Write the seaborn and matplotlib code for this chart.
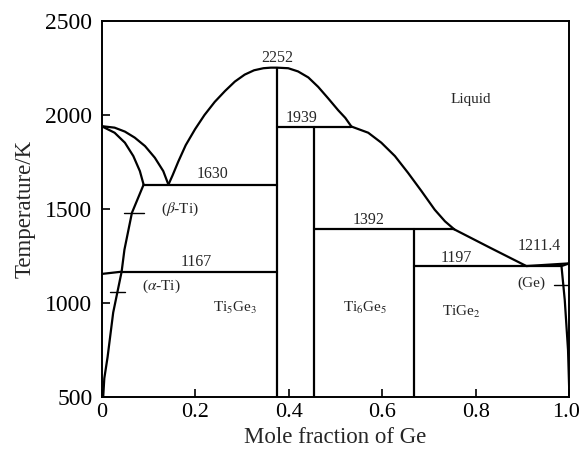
import matplotlib
matplotlib.use("Agg")
import matplotlib.pyplot as plt
import matplotlib.transforms as mtransforms
import seaborn as sns

sns.set_theme(style="white")
plt.rcParams['font.family'] = ['Liberation Serif', 'DejaVu Serif']

# ---- phase boundary data (mole fraction Ge, temperature K) ----
liq_ti_x = [0.0, 0.028, 0.05, 0.071, 0.093, 0.114, 0.132, 0.143]
liq_ti_T = [1941, 1933, 1912, 1880, 1835, 1773, 1702, 1630]
sol_ti_x = [0.0, 0.028, 0.05, 0.068, 0.082, 0.09]
sol_ti_T = [1941, 1906, 1853, 1782, 1702, 1630]
solvus_ti_x = [0.09, 0.065, 0.049, 0.043, 0.025, 0.013, 0.006, 0.0036]
solvus_ti_T = [1630, 1480, 1284, 1167, 950, 713, 600, 500]
ab_x = [0.0, 0.043]
ab_T = [1155, 1167]
dome_x = [0.143, 0.152, 0.164, 0.18, 0.2, 0.22, 0.242, 0.264, 0.285, 0.306, 0.326,
          0.346, 0.362, 0.375, 0.399, 0.42, 0.442, 0.463, 0.484, 0.506, 0.521, 0.534]
dome_T = [1630, 1680, 1752, 1840, 1925, 2000, 2070, 2128, 2178, 2215, 2238,
          2249, 2252, 2252, 2249, 2232, 2200, 2150, 2090, 2025, 1985, 1939]
liq_ge_x = [0.534, 0.57, 0.598, 0.627, 0.655, 0.684, 0.712, 0.734, 0.754]
liq_ge_T = [1939, 1906, 1853, 1782, 1693, 1595, 1497, 1435, 1392]
liq_eut_x = [0.754, 0.83, 0.908, 1.0]
liq_eut_T = [1392, 1295, 1197, 1211.4]
sol_ge_x = [1.0, 0.983, 0.99, 0.997, 1.0]
sol_ge_T = [1211.4, 1197, 1017, 751, 500]

# invariant horizontal lines
inv_x0 = [0.09, 0.043, 0.375, 0.4545, 0.667]
inv_x1 = [0.375, 0.375, 0.534, 0.754, 0.983]
inv_T = [1630, 1167, 1939, 1392, 1197]
# compound lines
comp_x = [0.375, 0.4545, 0.667]
comp_T = [2252, 1939, 1392]
# short marker dashes
dash_x0 = [0.049, 0.018, 0.966]
dash_x1 = [0.09, 0.05, 0.996]
dash_T = [1481, 1057, 1097]

# labels
num_labels = ["2252", "1939", "1630", "1392", "1197", "1211.4", "1167"]
num_x = [0.375, 0.427, 0.237, 0.57, 0.759, 0.935, 0.203]
num_T = [2305, 1985, 1688, 1440, 1242, 1302, 1218]
phase_labels = ["Liquid", r"($\beta$-Ti)", r"($\alpha$-Ti)", "Ti$_5$Ge$_3$",
                "Ti$_6$Ge$_5$", "TiGe$_2$", "(Ge)"]
phase_x = [0.79, 0.167, 0.128, 0.285, 0.564, 0.769, 0.919]
phase_T = [2084, 1497, 1088, 973, 975, 955, 1106]

x_ticks = [0, 0.2, 0.4, 0.6, 0.8, 1.0]
x_ticklabels = ["0", "0.2", "0.4", "0.6", "0.8", "1.0"]
y_ticks = [500, 1000, 1500, 2000, 2500]

fig = plt.figure(figsize=(5.82, 4.57), dpi=100)
ax = fig.add_axes([0.1744, 0.131, 0.804, 0.823])

lw = 1.6
kw = dict(color="black", linewidth=lw, sort=False, estimator=None, ax=ax, legend=False)
for xs, ts in [(liq_ti_x, liq_ti_T), (sol_ti_x, sol_ti_T), (solvus_ti_x, solvus_ti_T),
               (ab_x, ab_T), (dome_x, dome_T), (liq_ge_x, liq_ge_T),
               (liq_eut_x, liq_eut_T), (sol_ge_x, sol_ge_T)]:
    sns.lineplot(x=xs, y=ts, **kw)
for a, b, t in zip(inv_x0, inv_x1, inv_T):
    sns.lineplot(x=[a, b], y=[t, t], **kw)
for cx, ct in zip(comp_x, comp_T):
    sns.lineplot(x=[cx, cx], y=[500, ct], **kw)
for a, b, t in zip(dash_x0, dash_x1, dash_T):
    sns.lineplot(x=[a, b], y=[t, t], color="black", linewidth=1.0, sort=False,
                 estimator=None, ax=ax, legend=False)

for s, x, t in zip(num_labels, num_x, num_T):
    ax.text(x, t, s, ha="center", va="center", fontsize=11.5)
for s, x, t in zip(phase_labels, phase_x, phase_T):
    ax.text(x, t, s, ha="center", va="center", fontsize=11,
            math_fontfamily="stix")

ax.set_xlim(0, 1.0)
ax.set_ylim(500, 2500)
ax.set_xticks(x_ticks)
ax.set_xticklabels(x_ticklabels)
ax.set_yticks(y_ticks)
ax.tick_params(direction="in", length=6, width=1.2, colors="black",
               left=True, bottom=True)
ax.tick_params(axis="y", pad=6.5, labelsize=17)
ax.tick_params(axis="x", pad=4, labelsize=16)
ax.set_xlabel("Mole fraction of Ge", fontsize=16.5, labelpad=4)
ax.set_ylabel("Temperature/K", fontsize=16.5, labelpad=7)
for sp in ax.spines.values():
    sp.set_color("black")
    sp.set_linewidth(1.4)
ax.set_facecolor("white")
fig.patch.set_facecolor("white")

# keep the last x tick label inside the figure
last = ax.get_xticklabels()[-1]
last.set_transform(last.get_transform() +
                   mtransforms.ScaledTranslation(-3 / 100, 0, fig.dpi_scale_trans))
fig.savefig("out.png", dpi=100)
